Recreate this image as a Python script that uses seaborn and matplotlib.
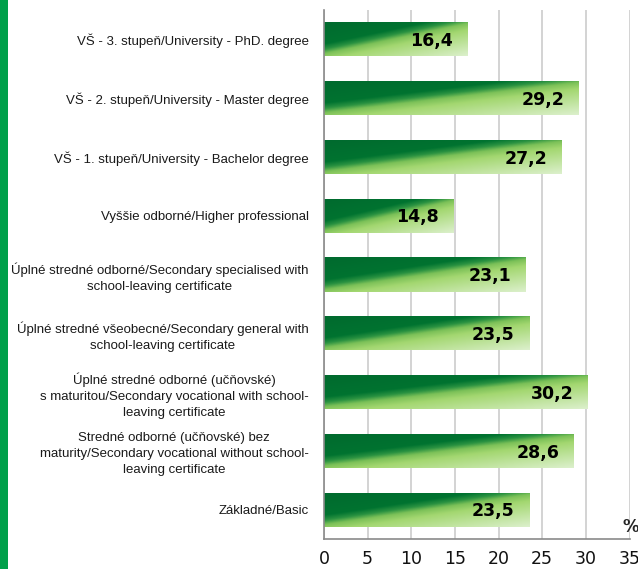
import numpy as np
import pandas as pd
import matplotlib
matplotlib.use("Agg")
import matplotlib.pyplot as plt
import seaborn as sns
from matplotlib.colors import LinearSegmentedColormap
from matplotlib.patches import Rectangle

categories = [
    "VŠ - 3. stupeň/University - PhD. degree",
    "VŠ - 2. stupeň/University - Master degree",
    "VŠ - 1. stupeň/University - Bachelor degree",
    "Vyššie odborné/Higher professional",
    "Úplné stredné odborné/Secondary specialised with\nschool-leaving certificate",
    "Úplné stredné všeobecné/Secondary general with\nschool-leaving certificate",
    "Úplné stredné odborné (učňovské)\ns maturitou/Secondary vocational with school-\nleaving certificate",
    "Stredné odborné (učňovské) bez\nmaturity/Secondary vocational without school-\nleaving certificate",
    "Základné/Basic",
]
values = [16.4, 29.2, 27.2, 14.8, 23.1, 23.5, 30.2, 28.6, 23.5]
value_labels = ["16,4", "29,2", "27,2", "14,8", "23,1", "23,5", "30,2", "28,6", "23,5"]
x_ticks = [0, 5, 10, 15, 20, 25, 30, 35]

df = pd.DataFrame({"category": categories, "value": values})

sns.set_style("white")
plt.rcParams["font.family"] = ["DejaVu Sans"]

fig = plt.figure(figsize=(6.38, 5.69), dpi=100)
ax = fig.add_axes([324 / 638, 1 - 539 / 569, (629.5 - 324) / 638, (539 - 10) / 569])

sns.barplot(data=df, y="category", x="value", orient="h", order=categories,
            width=0.58, ax=ax, color="#0B7A35", edgecolor="none", saturation=1)

cmap = LinearSegmentedColormap.from_list("g", [
    (0.0, "#006A2E"), (0.35, "#007330"), (0.43, "#2A9241"),
    (0.5, "#7CC158"), (0.6, "#A3D770"), (1.0, "#DCF0CC")])
ny, nx = 60, 300
u = np.linspace(0, 1, nx)[None, :]
v = np.linspace(0, 1, ny)[:, None]
t = np.clip((1.15 * u + 1.3 * v) / 2.45, 0, 1)

for p in ax.patches:
    x0, y0 = p.get_x(), p.get_y()
    w, h = p.get_width(), p.get_height()
    p.set_facecolor("none")
    im = ax.imshow(t, cmap=cmap, vmin=0, vmax=1, aspect="auto",
                   extent=[x0, x0 + w, y0 + h, y0], interpolation="bilinear", zorder=2)
    im.set_clip_path(p)

ax.set_xlim(0, 35)
ax.set_ylim(len(categories) - 0.5, -0.5)

for i, (val, lab) in enumerate(zip(values, value_labels)):
    ax.text(val - 1.65, i + 0.03, lab, ha="right", va="center", fontsize=12.5,
            fontweight="bold", color="black", zorder=4)

ax.set_xticks(x_ticks)
ax.set_xticklabels([str(x) for x in x_ticks], fontsize=12.5, color="#111111")
ax.xaxis.grid(True, color="#C8C8C8", linewidth=1.1, zorder=0)
ax.set_axisbelow(True)

ax.set_yticks(np.arange(-0.5, len(categories), 1.0))
ax.set_yticklabels([])
ax.set_yticks(np.arange(len(categories)), minor=True)
ax.set_yticklabels(categories, minor=True, fontsize=9.5, family="Liberation Sans",
                   color="#1a1a1a", linespacing=1.45)
for lbl in ax.get_yticklabels(minor=True):
    lbl.set_horizontalalignment("right")
    lbl.set_multialignment("center")
ax.tick_params(axis="y", which="major", length=5, width=1, color="#8A8A8A", direction="out")
ax.tick_params(axis="y", which="minor", length=0, pad=11)
ax.tick_params(axis="x", which="major", length=5, width=1, color="#8A8A8A", direction="out", pad=3)

ax.set_xlabel("")
ax.set_ylabel("")
for s in ["top", "right"]:
    ax.spines[s].set_visible(False)
for s in ["left", "bottom"]:
    ax.spines[s].set_color("#8A8A8A")
    ax.spines[s].set_linewidth(1.2)

ax.text(34.2, 8.3, "%", fontsize=12, fontweight="bold", ha="left", va="center",
        clip_on=False, zorder=5)

fig.patches.append(Rectangle((0, 0), 8 / 638, 1, transform=fig.transFigure,
                             facecolor="#00A04A", edgecolor="none", zorder=0))

fig.savefig("out.png", dpi=100)
